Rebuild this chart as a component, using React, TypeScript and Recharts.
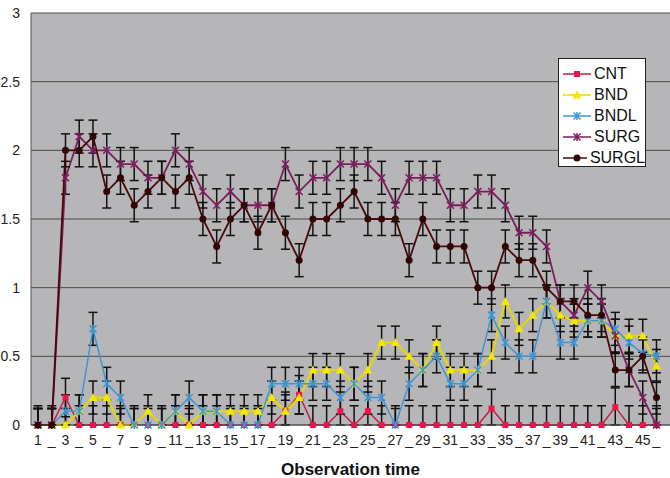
import React from 'react'
import { LineChart, Line, XAxis, YAxis, CartesianGrid, ErrorBar } from 'recharts'

// observation times 1..46, only odd ones carry a number on the axis
const times = Array.from({ length: 46 }, (_, i) => i + 1)
const tickLabels = times.map((t) => (t % 2 === 1 ? String(t) : '_'))

const cnt = [
  0, 0, 0.2, 0, 0, 0, 0, 0, 0, 0, 0, 0, 0, 0, 0, 0, 0, 0, 0.1, 0.22, 0, 0, 0.1, 0, 0.1, 0, 0, 0, 0, 0, 0, 0,
  0, 0.12, 0, 0, 0, 0, 0, 0, 0, 0, 0.13, 0, 0, 0,
]
const bnd = [
  0, 0, 0, 0.1, 0.2, 0.2, 0, 0, 0.1, 0, 0.1, 0, 0.1, 0.1, 0.1, 0.1, 0.1, 0.2, 0.1, 0.2, 0.4, 0.4, 0.4, 0.3,
  0.4, 0.6, 0.6, 0.5, 0.4, 0.6, 0.4, 0.4, 0.4, 0.5, 0.9, 0.7, 0.8, 0.9, 0.8, 0.76, 0.76, 0.76, 0.65, 0.65,
  0.65, 0.43,
]
const bndl = [
  0, 0, 0.1, 0.1, 0.7, 0.3, 0.2, 0, 0, 0, 0.1, 0.2, 0.1, 0.1, 0, 0, 0, 0.3, 0.3, 0.3, 0.3, 0.3, 0.2, 0.3,
  0.2, 0.2, 0, 0.3, 0.4, 0.5, 0.3, 0.3, 0.4, 0.8, 0.6, 0.5, 0.5, 0.9, 0.6, 0.6, 0.76, 0.76, 0.7, 0.6, 0.52,
  0.5,
]
const surg = [
  0, 0, 1.8, 2.1, 2.0, 2.0, 1.9, 1.9, 1.8, 1.8, 2.0, 1.9, 1.7, 1.6, 1.7, 1.6, 1.6, 1.6, 1.9, 1.7, 1.8, 1.8,
  1.9, 1.9, 1.9, 1.8, 1.6, 1.8, 1.8, 1.8, 1.6, 1.6, 1.7, 1.7, 1.6, 1.4, 1.4, 1.3, 0.9, 0.8, 1.0, 0.9, 0.65,
  0.4, 0.2, 0,
]
const surgl = [
  0, 0, 2.0, 2.0, 2.1, 1.7, 1.8, 1.6, 1.7, 1.8, 1.7, 1.8, 1.5, 1.3, 1.5, 1.6, 1.4, 1.6, 1.4, 1.2, 1.5, 1.5,
  1.6, 1.7, 1.5, 1.5, 1.5, 1.2, 1.5, 1.3, 1.3, 1.3, 1.0, 1.0, 1.3, 1.2, 1.2, 1.0, 0.9, 0.9, 0.8, 0.8, 0.4,
  0.4, 0.5, 0.2,
]

// error bar half lengths
const cntErr = 0.14
const bndErr = 0.12
const bndlErr = 0.12
const surgErr = 0.12
const surglErr = 0.12

const yTicks = [0, 0.5, 1, 1.5, 2, 2.5, 3]

// the axis stops at 0, so the lower whisker is cut there
const err = (v: number, e: number) => [Math.min(v, e), e]

const data = times.map((t, i) => ({
  t: String(t),
  cnt: cnt[i],
  bnd: bnd[i],
  bndl: bndl[i],
  surg: surg[i],
  surgl: surgl[i],
  cntErr: err(cnt[i], cntErr),
  bndErr: err(bnd[i], bndErr),
  bndlErr: err(bndl[i], bndlErr),
  surgErr: err(surg[i], surgErr),
  surglErr: err(surgl[i], surglErr),
}))

const colors = {
  cnt: '#c41d48',
  cntDot: '#e8164c',
  bnd: '#e6d800',
  bndDot: '#f5e800',
  bndl: '#3d95d4',
  surg: '#7a1f5c',
  surgl: '#4a0808',
  surglDot: '#330404',
}

const font = '"Liberation Sans", Arial, sans-serif'

const Square = ({ cx, cy, color }: any) => <rect x={cx - 3} y={cy - 3} width={6} height={6} fill={color} />
const Triangle = ({ cx, cy, color }: any) => (
  <polygon points={`${cx},${cy - 4.5} ${cx - 4.5},${cy + 3.5} ${cx + 4.5},${cy + 3.5}`} fill={color} />
)
const Star = ({ cx, cy, color }: any) => (
  <g stroke={color} strokeWidth={1.5}>
    <line x1={cx - 3.5} y1={cy - 3.5} x2={cx + 3.5} y2={cy + 3.5} />
    <line x1={cx - 3.5} y1={cy + 3.5} x2={cx + 3.5} y2={cy - 3.5} />
    <line x1={cx} y1={cy - 4} x2={cx} y2={cy + 4} />
  </g>
)
const Dot = ({ cx, cy, color }: any) => <circle cx={cx} cy={cy} r={3.5} fill={color} />

const dotFn = (Shape: any, color: string) => (p: any) => (
  <Shape key={`d-${p.index}`} cx={p.cx} cy={p.cy} color={color} />
)

const legendItems = [
  { name: 'CNT', line: colors.cnt, Shape: Square, dot: colors.cntDot },
  { name: 'BND', line: colors.bnd, Shape: Triangle, dot: colors.bndDot },
  { name: 'BNDL', line: colors.bndl, Shape: Star, dot: colors.bndl },
  { name: 'SURG', line: colors.surg, Shape: Star, dot: colors.surg },
  { name: 'SURGL', line: colors.surgl, Shape: Dot, dot: colors.surglDot },
]

export default function App() {
  return (
    <div style={{ position: 'relative', width: 670, height: 478, background: '#fff', fontFamily: font }}>
      <style>{'body{margin:0}'}</style>
      <LineChart width={670} height={478} data={data} margin={{ top: 13, right: 0, bottom: 0, left: 0 }}>
        <CartesianGrid vertical={false} stroke="#4a4a4a" fill="#b6b6b9" />
        <XAxis
          dataKey="t"
          interval={0}
          height={53}
          padding={{ left: 7, right: 13.5 }}
          tickLine={false}
          tickMargin={4}
          axisLine={{ stroke: '#555' }}
          tickFormatter={(v, i) => tickLabels[i]}
          tick={{ fontSize: 14, fill: '#222', fontFamily: font }}
          label={{
            value: 'Observation time',
            position: 'insideBottom',
            offset: 3,
            style: { fontSize: 17, fontWeight: 'bold', fill: '#111', fontFamily: font },
          }}
        />
        <YAxis
          width={31}
          domain={[0, 3]}
          ticks={yTicks}
          tickLine={false}
          tickMargin={5}
          axisLine={{ stroke: '#555' }}
          tick={{ fontSize: 14, fill: '#222', fontFamily: font }}
        />
        <Line dataKey="cnt" stroke={colors.cnt} strokeWidth={1.5} dot={dotFn(Square, colors.cntDot)} isAnimationActive={false}>
          <ErrorBar dataKey="cntErr" direction="y" width={4.5} stroke="#111" strokeWidth={1.5} />
        </Line>
        <Line dataKey="bnd" stroke={colors.bnd} strokeWidth={2} dot={dotFn(Triangle, colors.bndDot)} isAnimationActive={false}>
          <ErrorBar dataKey="bndErr" direction="y" width={4.5} stroke="#111" strokeWidth={1.5} />
        </Line>
        <Line dataKey="bndl" stroke={colors.bndl} strokeWidth={1.5} dot={dotFn(Star, colors.bndl)} isAnimationActive={false}>
          <ErrorBar dataKey="bndlErr" direction="y" width={4.5} stroke="#111" strokeWidth={1.5} />
        </Line>
        <Line dataKey="surg" stroke={colors.surg} strokeWidth={1.8} dot={dotFn(Star, colors.surg)} isAnimationActive={false}>
          <ErrorBar dataKey="surgErr" direction="y" width={4.5} stroke="#111" strokeWidth={1.5} />
        </Line>
        <Line dataKey="surgl" stroke={colors.surgl} strokeWidth={1.8} dot={dotFn(Dot, colors.surglDot)} isAnimationActive={false}>
          <ErrorBar dataKey="surglErr" direction="y" width={4.5} stroke="#111" strokeWidth={1.5} />
        </Line>
      </LineChart>

      {/* Legend */}
      <div
        style={{
          position: 'absolute',
          left: 558,
          top: 58,
          width: 88,
          height: 109,
          background: '#fff',
          border: '1px solid #222',
          boxSizing: 'border-box',
          padding: '4px 0 0 4px',
        }}
      >
        {legendItems.map((it) => (
          <div key={it.name} style={{ display: 'flex', alignItems: 'center', height: 21 }}>
            <svg width={28} height={12}>
              <line x1={0} y1={6} x2={28} y2={6} stroke={it.line} strokeWidth={1.5} />
              <it.Shape cx={14} cy={6} color={it.dot} />
            </svg>
            <span style={{ fontSize: 16, color: '#111', marginLeft: 3 }}>{it.name}</span>
          </div>
        ))}
      </div>
    </div>
  )
}
